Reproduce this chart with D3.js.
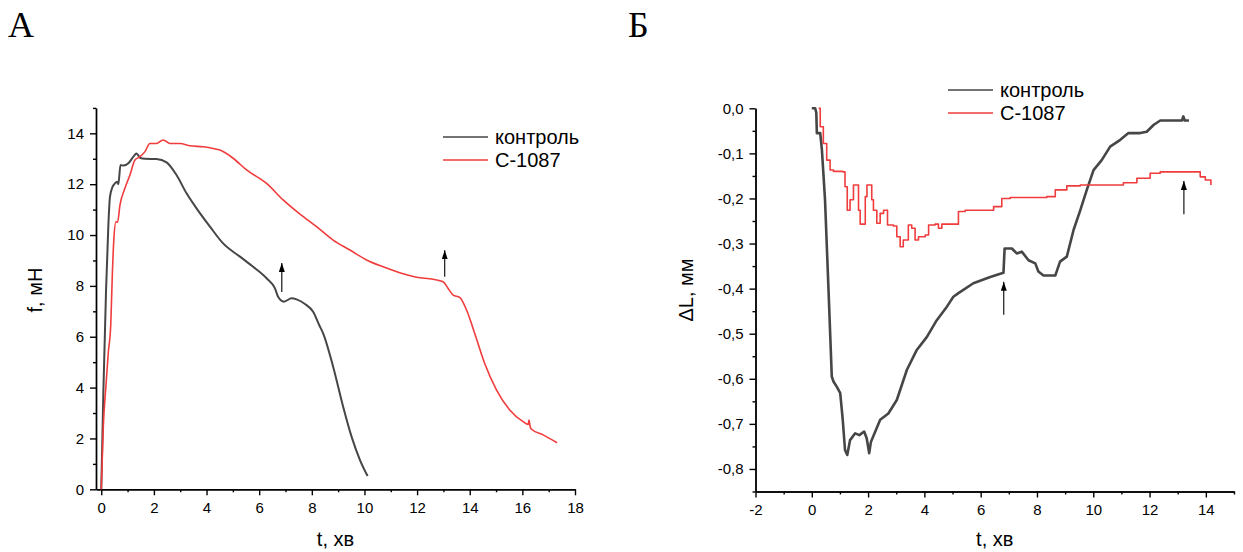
<!DOCTYPE html>
<html lang="uk">
<head>
<meta charset="utf-8">
<title>f та ΔL</title>
<script src="https://d3js.org/d3.v7.min.js"></script>
<style>
  body { margin: 0; background: #fff; font-family: "Liberation Sans", Arial, sans-serif; }
  .axis path, .axis line { stroke: #000; stroke-width: 1.4px; }
  .axis text { font-size: 15px; fill: #000; font-family: "Liberation Sans", Arial, sans-serif; }
  .title { font-size: 20px; }
  .legend text { font-size: 20px; }
  .panel { font-family: "Liberation Serif", "Times New Roman", serif; font-size: 36px; }
</style>
</head>
<body>
<div id="chart"></div>
<script>
// A: сила f (мН) від часу t (хв)
var ctrlForce = [[0,0],[0.08,3.84],[0.18,7.77],[0.27,10.4],[0.33,11.5],[0.43,11.9],[0.52,12.03],[0.6,12.1],[0.65,12.0],[0.73,12.75],[0.84,12.73],[1.03,12.82],[1.22,13.08],[1.34,13.21],[1.47,13.04],[1.66,13.0],[2.1,12.99],[2.48,12.86],[2.86,12.36],[3.24,11.64],[3.62,11.05],[4.13,10.33],[4.63,9.67],[5.27,9.15],[5.77,8.75],[6.28,8.3],[6.6,7.9],[6.72,7.57],[6.94,7.38],[7.23,7.51],[7.42,7.47],[7.74,7.29],[8.05,6.98],[8.28,6.46],[8.43,6.13],[8.81,4.82],[9.19,3.25],[9.51,2.07],[9.83,1.15],[10.12,0.52]];
var drugForce = [[0,0],[0.08,2.53],[0.18,4.1],[0.27,5.41],[0.36,6.46],[0.42,8.43],[0.48,9.87],[0.56,10.52],[0.62,10.5],[0.71,11.18],[0.9,11.84],[1.09,12.36],[1.28,12.95],[1.47,13.08],[1.66,13.28],[1.85,13.6],[2.1,13.6],[2.35,13.74],[2.61,13.6],[2.99,13.6],[3.37,13.51],[3.87,13.47],[4.13,13.43],[4.51,13.34],[5.01,13.02],[5.52,12.56],[6.28,12.03],[6.91,11.38],[7.55,10.82],[8.18,10.33],[8.81,9.8],[9.45,9.41],[10.08,9.02],[10.71,8.75],[11.34,8.52],[11.98,8.34],[12.61,8.26],[12.99,8.16],[13.18,7.9],[13.37,7.64],[13.62,7.55],[13.88,7.05],[14.19,6.13],[14.57,4.95],[15.02,3.9],[15.52,3.12],[16.03,2.66],[16.22,2.55],[16.25,2.72],[16.3,2.45],[16.35,2.36],[16.79,2.14],[17.32,1.83]];

// Б: ΔL (мм) від часу t (хв)
var ctrlLen = [[0,0],[0.12,0],[0.16,-0.01],[0.18,-0.055],[0.3,-0.055],[0.36,-0.093],[0.47,-0.203],[0.59,-0.396],[0.71,-0.595],[0.77,-0.606],[0.89,-0.618],[1.01,-0.632],[1.1,-0.691],[1.18,-0.758],[1.26,-0.769],[1.36,-0.736],[1.54,-0.721],[1.69,-0.725],[1.86,-0.717],[1.95,-0.732],[2.04,-0.765],[2.1,-0.74],[2.43,-0.691],[2.72,-0.677],[3.02,-0.647],[3.38,-0.58],[3.73,-0.536],[4.09,-0.507],[4.44,-0.47],[4.8,-0.44],[5.03,-0.418],[5.21,-0.41],[5.74,-0.388],[6.34,-0.374],[6.81,-0.365],[6.85,-0.311],[7.11,-0.311],[7.28,-0.322],[7.46,-0.318],[7.7,-0.337],[7.94,-0.344],[8.05,-0.362],[8.23,-0.371],[8.65,-0.371],[8.82,-0.34],[9.06,-0.329],[9.3,-0.27],[9.54,-0.226],[9.77,-0.181],[10.01,-0.137],[10.3,-0.115],[10.6,-0.085],[10.96,-0.07],[11.25,-0.055],[11.67,-0.055],[11.9,-0.052],[12.14,-0.037],[12.38,-0.027],[12.85,-0.027],[13.15,-0.027],[13.2,-0.018],[13.25,-0.027],[13.4,-0.027]];
var drugLen = [[0.24,0],[0.3,-0.041],[0.41,-0.078],[0.53,-0.115],[0.65,-0.137],[0.77,-0.14],[0.95,-0.14],[1.1,-0.141],[1.18,-0.174],[1.26,-0.226],[1.36,-0.203],[1.48,-0.17],[1.57,-0.17],[1.66,-0.226],[1.72,-0.257],[1.82,-0.257],[1.9,-0.196],[1.96,-0.17],[2.06,-0.17],[2.13,-0.203],[2.19,-0.226],[2.31,-0.255],[2.43,-0.233],[2.55,-0.226],[2.64,-0.226],[2.69,-0.259],[2.9,-0.261],[3.02,-0.285],[3.14,-0.307],[3.25,-0.292],[3.43,-0.259],[3.55,-0.266],[3.67,-0.292],[3.79,-0.285],[4.03,-0.281],[4.15,-0.259],[4.38,-0.257],[4.5,-0.266],[4.62,-0.257],[4.97,-0.257],[5.21,-0.229],[5.45,-0.226],[6.1,-0.226],[6.46,-0.218],[6.75,-0.2],[7.05,-0.198],[8.05,-0.198],[8.35,-0.196],[8.65,-0.181],[9.06,-0.172],[9.54,-0.17],[10.6,-0.17],[11.07,-0.165],[11.55,-0.155],[12.02,-0.144],[12.38,-0.141],[13.62,-0.141],[13.8,-0.152],[13.98,-0.159],[14.18,-0.17]];

// стрілки: t, звідки, куди
var arrowsForce = [[6.86,7.76,8.9],[13.05,8.36,9.4]];
var arrowsLen = [[6.82,-0.458,-0.385],[13.22,-0.235,-0.161]];

var seriesNames = ["контроль","С-1087"];
var seriesColors = ["#464646","#f03c3c"];

var locale = d3.formatLocale({decimal: ",", thousands: " ", grouping: [3], currency: ["", ""], minus: "-"});
var fmtInt = locale.format("d");
var fmtDec = locale.format(".1f");

var W = 1243, H = 552;
var svg = d3.select("#chart").append("svg").attr("width", W).attr("height", H);

svg.append("defs").append("marker")
  .attr("id", "head")
  .attr("viewBox", "0 0 10 10")
  .attr("preserveAspectRatio", "none")
  .attr("refX", 10).attr("refY", 5)
  .attr("markerUnits", "userSpaceOnUse")
  .attr("markerWidth", 9).attr("markerHeight", 6)
  .attr("orient", "auto")
  .append("path").attr("d", "M0,0L10,5L0,10Z").attr("fill", "#000");

function drawPanel(o) {
  var x = d3.scaleLinear().domain(o.xDomain).range(o.xRange);
  var y = d3.scaleLinear().domain(o.yDomain).range(o.yRange);
  var g = svg.append("g");

  // мінорні поділки
  g.append("g").attr("class", "axis").attr("transform", "translate(0," + o.yRange[0] + ")")
    .call(d3.axisBottom(x).tickValues(o.xMinor).tickSize(3).tickFormat("").tickSizeOuter(0));
  g.append("g").attr("class", "axis").attr("transform", "translate(" + o.xRange[0] + ",0)")
    .call(d3.axisLeft(y).tickValues(o.yMinor).tickSize(3).tickFormat("").tickSizeOuter(0));

  g.append("g").attr("class", "axis").attr("transform", "translate(0," + o.yRange[0] + ")")
    .call(d3.axisBottom(x).tickValues(o.xTicks).tickSize(6).tickPadding(7).tickFormat(fmtInt).tickSizeOuter(0));
  g.append("g").attr("class", "axis").attr("transform", "translate(" + o.xRange[0] + ",0)")
    .call(d3.axisLeft(y).tickValues(o.yTicks).tickSize(6).tickPadding(6).tickFormat(o.yFormat).tickSizeOuter(0));

  o.series.forEach(function(s, i) {
    var line = d3.line().curve(o.curves[i])
      .x(function(d){ return x(d[0]); }).y(function(d){ return y(d[1]); });
    g.append("path").datum(s).attr("d", line)
      .attr("fill", "none").attr("stroke", seriesColors[i])
      .attr("stroke-width", o.widths[i]).attr("stroke-linejoin", "round");
  });

  g.selectAll(".arrow").data(o.arrows).enter().append("line")
    .attr("x1", function(d){ return x(d[0]); }).attr("x2", function(d){ return x(d[0]); })
    .attr("y1", function(d){ return y(d[1]); }).attr("y2", function(d){ return y(d[2]); })
    .attr("stroke", "#000").attr("stroke-width", 1.1).attr("marker-end", "url(#head)");

  g.append("text").attr("class", "title").attr("text-anchor", "middle")
    .attr("x", (o.xRange[0] + o.xRange[1]) / 2).attr("y", 546).text("t, хв");
  g.append("text").attr("class", "title").attr("text-anchor", "middle")
    .attr("transform", "translate(" + o.yTitleX + ",290) rotate(-90)").text(o.yTitle);

  var lg = g.append("g").attr("class", "legend");
  seriesNames.forEach(function(n, i) {
    var ly = o.legendY + i * 23;
    lg.append("line").attr("x1", o.legendX).attr("x2", o.legendX + 45).attr("y1", ly).attr("y2", ly)
      .attr("stroke", seriesColors[i]).attr("stroke-width", 1.3);
    lg.append("text").attr("x", o.legendX + 52).attr("y", ly + 7).text(n);
  });

  g.append("text").attr("class", "panel").attr("x", o.panelX).attr("y", 37).text(o.panel);
}

drawPanel({
  xDomain: [-0.2, 18], xRange: [96, 575],
  yDomain: [0, 15], yRange: [489.3, 107.9],
  xTicks: d3.range(0, 19, 2), xMinor: d3.range(1, 18, 2),
  yTicks: d3.range(0, 15, 2), yMinor: d3.range(1, 16, 2),
  yFormat: fmtInt,
  series: [ctrlForce, drugForce], widths: [2, 1.6],
  curves: [d3.curveMonotoneX, d3.curveMonotoneX],
  arrows: arrowsForce,
  yTitle: "f, мН", yTitleX: 42,
  legendX: 443, legendY: 137,
  panel: "А", panelX: 8
});

drawPanel({
  xDomain: [-2, 15], xRange: [755.5, 1234],
  yDomain: [-0.85, 0], yRange: [491.5, 108.3],
  xTicks: d3.range(-2, 15, 2), xMinor: d3.range(-1, 16, 2),
  yTicks: d3.range(0, 9).map(function(i){ return -i / 10; }),
  yMinor: d3.range(0, 9).map(function(i){ return -(2 * i + 1) / 20; }),
  yFormat: fmtDec,
  series: [ctrlLen, drugLen], widths: [2.6, 1.6],
  curves: [d3.curveLinear, d3.curveStepAfter],
  arrows: arrowsLen,
  yTitle: "ΔL, мм", yTitleX: 693,
  legendX: 948, legendY: 90,
  panel: "Б", panelX: 628
});
</script>
</body>
</html>
